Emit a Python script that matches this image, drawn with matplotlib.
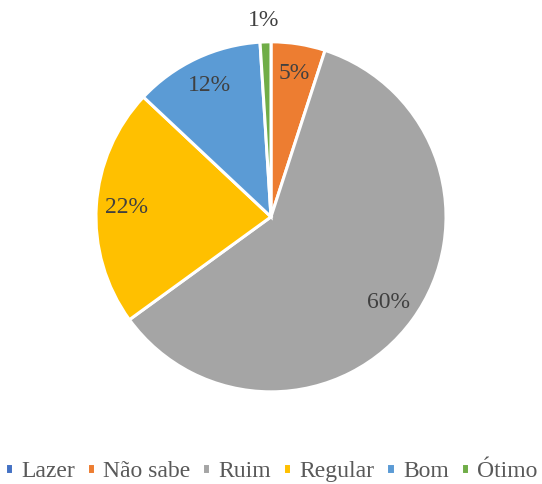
import matplotlib.pyplot as plt

# Dados do gráfico
categorias = ['Lazer', 'Não sabe', 'Ruim', 'Regular', 'Bom', 'Ótimo']
percentuais = [0, 5, 60, 22, 12, 1]
cores = ['#4472C4', '#ED7D31', '#A5A5A5', '#FFC000', '#5B9BD5', '#70AD47']

plt.rcParams['font.family'] = ['Liberation Serif', 'DejaVu Serif']

fig = plt.figure(figsize=(5.42, 4.84), dpi=100)
ax = fig.add_axes([0.5 - 0.323, 0.552 - 0.3616, 0.646, 0.7232])

def rotulo(p):
    return '' if p < 0.5 or p > 99.5 else f'{p:.0f}%'

wedges, textos, autotextos = ax.pie(
    percentuais, colors=cores, startangle=90, counterclock=False,
    autopct=rotulo, pctdistance=0.83,
    wedgeprops=dict(edgecolor='white', linewidth=2.2),
    textprops=dict(fontsize=17, color='#404040'))

# rótulo do menor setor fica fora da pizza
autotextos[-1].set_position((-0.04, 1.12))

ax.set_xlim(-1, 1)
ax.set_ylim(-1, 1)
ax.set_aspect('equal')

fig.legend(wedges, categorias, loc='center', bbox_to_anchor=(0.5, 0.026),
           ncol=6, frameon=False, fontsize=17, labelcolor='#595959',
           handlelength=0.35, handleheight=0.35, handletextpad=0.35,
           columnspacing=0.5)

fig.savefig('out.png', dpi=100)
